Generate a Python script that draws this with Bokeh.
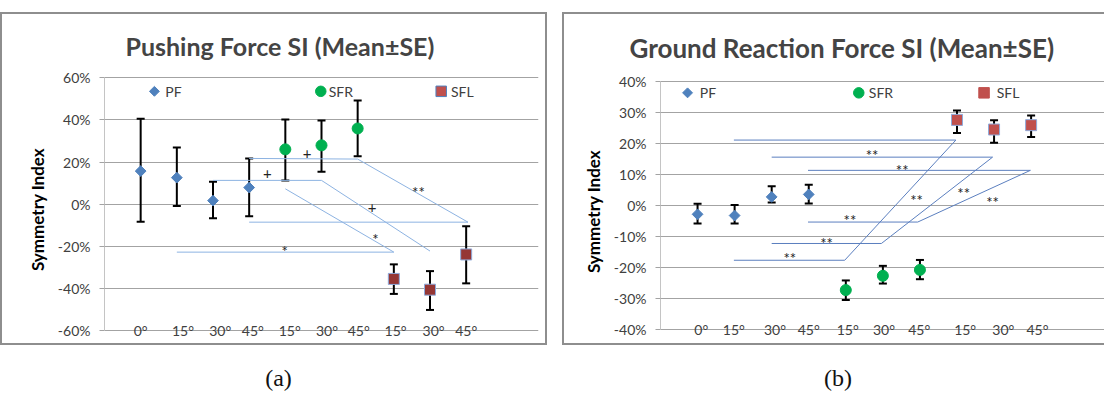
import numpy as np
from bokeh.plotting import figure
from bokeh.models import (ColumnDataSource, Range1d, FixedTicker, PrintfTickFormatter,
                          Whisker, TeeHead, Div, Spacer)
from bokeh.layouts import row, column
from bokeh.embed import file_html
from bokeh.resources import INLINE
from bokeh.core.properties import value

# ---------------- data ----------------
angle_labels = ["0°", "15°", "30°", "45°", "15°", "30°", "45°", "15°", "30°", "45°"]
pf_x = [1, 2, 3, 4]
sfr_x = [5, 6, 7]
sfl_x = [8, 9, 10]

# (a) Pushing Force SI (%)
a_pf_mean = [15.7, 12.6, 1.7, 7.9]
a_pf_upper = [40.5, 26.9, 10.6, 21.7]
a_pf_lower = [-8.3, -0.8, -6.6, -5.7]
a_sfr_mean = [26.0, 27.9, 35.9]
a_sfr_upper = [40.2, 39.7, 49.1]
a_sfr_lower = [11.3, 15.4, 22.7]
a_sfl_mean = [-35.4, -40.5, -23.8]
a_sfl_upper = [-28.5, -31.7, -10.4]
a_sfl_lower = [-42.5, -50.1, -37.5]
a_yticks = [-60, -40, -20, 0, 20, 40, 60]
a_sig_text = ["+", "+", "**", "+", "*", "*"]

# (b) Ground Reaction Force SI (%)
b_pf_mean = [-2.9, -3.3, 2.7, 3.5]
b_pf_upper = [0.5, 0.1, 6.1, 6.6]
b_pf_lower = [-5.9, -5.9, 0.9, 0.6]
b_sfr_mean = [-27.3, -22.7, -20.8]
b_sfr_upper = [-24.2, -19.5, -17.6]
b_sfr_lower = [-30.5, -25.2, -23.8]
b_sfl_mean = [27.5, 24.4, 25.8]
b_sfl_upper = [30.5, 27.4, 28.9]
b_sfl_lower = [23.3, 20.1, 22.0]
b_yticks = [-40, -30, -20, -10, 0, 10, 20, 30, 40]
b_sig_text = ["**"] * 8

# ---------------- layout (positions in data units) ----------------
a_label_x = [1.0, 2.17, 3.2, 4.1, 5.12, 6.15, 7.03, 8.05, 9.1, 10.0]
b_label_x = [1.1, 1.98, 3.09, 4.0, 5.05, 6.03, 6.98, 8.22, 9.25, 10.17]
a_lines = dict(x0=[4, 7, 4, 3, 6, 5, 2.0],
               y0=[21.7, 21.4, -8.5, 11.3, 11.3, 7.3, -22.7],
               x1=[7, 10.05, 10.05, 6, 9.0, 8.0, 8.0],
               y1=[21.4, -8.5, -8.5, 11.3, -22.2, -22.7, -22.7])
a_sig_pos = dict(x=[5.6, 4.5, 8.68, 7.4, 7.49, 4.98],
                 y=[24.0, 14.5, 8.1, -1.4, -14.0, -20.0])
b_lines = dict(x0=[1.98, 7.97, 1.98, 3.0, 8.96, 3.0, 3.98, 9.98, 3.98],
               y0=[21.0, 21.0, -17.7, 15.5, 15.5, -12.3, 11.25, 11.25, -5.4],
               x1=[7.97, 4.97, 4.97, 8.96, 5.96, 5.96, 9.98, 6.94, 6.94],
               y1=[21.0, -17.7, -17.7, 15.5, -12.3, -12.3, 11.25, -5.4, -5.4])
b_sig_pos = dict(x=[5.71, 6.52, 6.91, 8.18, 8.96, 5.11, 4.48, 3.49],
                 y=[17.9, 12.9, 3.3, 5.7, 2.7, -3.2, -10.4, -15.5])

FONT = value("Lato")
PF_C = "#4F81BD"
SFR_C = "#00B050"


def make_panel(title, title_size, title_standoff, width, height, borders, xr, yr, yticks, series,
               sfl_fill, label_x, lines, line_color, sig_text, sig_pos, legend, title_offset, styles):
    p = figure(width=width, height=height, x_range=Range1d(*xr), y_range=Range1d(*yr),
               output_backend="svg", toolbar_location=None,
               min_border_left=borders[0], min_border_right=borders[1],
               min_border_top=borders[2], min_border_bottom=borders[3],
               styles=styles)
    p.title.text = title
    p.title.text_font = "Lato"
    p.title.text_font_style = "bold"
    p.title.text_font_size = title_size
    p.title.align = "left"
    p.title.offset = title_offset
    p.title.standoff = title_standoff
    p.outline_line_color = None
    p.background_fill_color = "white"
    p.border_fill_color = "white"
    p.xaxis.visible = False
    p.xgrid.visible = False
    p.ygrid.ticker = FixedTicker(ticks=yticks)
    p.ygrid.grid_line_color = "#a3a3a3"
    p.ygrid.grid_line_width = 1
    ax = p.yaxis[0]
    ax.ticker = FixedTicker(ticks=yticks)
    ax.formatter = PrintfTickFormatter(format="%d%%")
    ax.bounds = (yticks[0], yticks[-1])
    ax.axis_line_color = "#c4c4c4"
    ax.major_tick_line_color = "#a3a3a3"
    ax.major_tick_out = 5
    ax.major_tick_in = 0
    ax.minor_tick_line_color = None
    ax.major_label_standoff = 9
    ax.major_label_text_font = "Lato"
    ax.major_label_text_font_size = "14px"
    ax.major_label_text_color = "#404040"
    ax.axis_label = "Symmetry Index"
    ax.axis_label_text_font = "Lato"
    ax.axis_label_text_font_style = "bold"
    ax.axis_label_text_font_size = "17px"
    ax.axis_label_text_color = "black"
    ax.axis_label_standoff = 7

    # significance lines
    p.segment(x0="x0", y0="y0", x1="x1", y1="y1", source=ColumnDataSource(lines),
              line_color=line_color, line_width=1)
    offs = [5 if "*" in t else 0 for t in sig_text]
    p.text(x="x", y="y", text="t", y_offset="o",
           source=ColumnDataSource(dict(sig_pos, t=sig_text, o=offs)),
           text_font=FONT, text_font_size="15px", text_color="#222222",
           text_align="center", text_baseline="middle")

    # error bars + markers
    for xs, mean, up, lo, kind in series:
        src = ColumnDataSource(dict(x=xs, m=mean, u=up, l=lo))
        w = Whisker(source=src, base="x", upper="u", lower="l", line_color="black", line_width=2,
                    upper_head=TeeHead(size=8, line_width=2, line_color="black"),
                    lower_head=TeeHead(size=8, line_width=2, line_color="black"))
        p.add_layout(w)
        if kind == "pf":
            p.scatter("x", "m", source=src, marker="square", angle=np.pi / 4, size=7.6,
                      fill_color=PF_C, line_color=PF_C)
        elif kind == "sfr":
            p.scatter("x", "m", source=src, marker="circle", size=11,
                      fill_color=SFR_C, line_color=SFR_C)
        else:
            p.scatter("x", "m", source=src, marker="square", size=11,
                      fill_color=sfl_fill, line_color="#8EAADB", line_width=1)

    # angle labels on the bottom gridline
    p.text(x="x", y="y", text="t",
           source=ColumnDataSource(dict(x=label_x, y=[yticks[0]] * len(label_x), t=angle_labels)),
           text_font=FONT, text_font_size="14px", text_color="#404040",
           text_align="center", text_baseline="middle")

    # in-plot legend
    (lx, ly, tx, sq_fill, sq_line) = legend
    p.scatter([lx[0]], [ly], marker="square", angle=np.pi / 4, size=7, fill_color=PF_C, line_color=PF_C)
    p.scatter([lx[1]], [ly], marker="circle", size=10.5, fill_color=SFR_C, line_color=SFR_C)
    p.scatter([lx[2]], [ly], marker="square", size=10.5, fill_color=sq_fill, line_color=sq_line)
    p.text(x=tx, y=[ly] * 3, text=["PF", "SFR", "SFL"], text_font=FONT, text_font_size="14px",
           text_color="#404040", text_align="left", text_baseline="middle")
    return p


pa = make_panel("Pushing Force SI (Mean±SE)", "25px", 29, 547, 333, (102, 11, 61, 4), (0, 12),
                (-66, 61), a_yticks,
                [(pf_x, a_pf_mean, a_pf_upper, a_pf_lower, "pf"),
                 (sfr_x, a_sfr_mean, a_sfr_upper, a_sfr_lower, "sfr"),
                 (sfl_x, a_sfl_mean, a_sfl_upper, a_sfl_lower, "sfl")],
                "#953735", a_label_x, a_lines, "#8DB3E2", a_sig_text, a_sig_pos,
                ([1.38, 5.98, 9.31], 53.5, [1.68, 6.2, 9.58], "#C0504D", "#4F81BD"), 21,
                {"border": "2px solid #8e8e8e"})
pb = make_panel("Ground Reaction Force SI (Mean±SE)", "26px", 31, 542, 333, (96, 2, 64, 4),
                (0, 11.98), (-44.5, 40.5), b_yticks,
                [(pf_x, b_pf_mean, b_pf_upper, b_pf_lower, "pf"),
                 (sfr_x, b_sfr_mean, b_sfr_upper, b_sfr_lower, "sfr"),
                 (sfl_x, b_sfl_mean, b_sfl_upper, b_sfl_lower, "sfl")],
                "#C0504D", b_label_x, b_lines, "#5B7FBF", b_sig_text, b_sig_pos,
                ([0.73, 5.35, 8.73], 36.2, [1.06, 5.62, 9.07], "#C0504D", "#C0504D"), -31,
                {"border": "2px solid #8e8e8e", "border-right": "none"})

cap_style = "text-align:center;font-family:'Liberation Serif';font-size:24px;padding-top:11px;color:#111"
da = Div(text=f'<div style="{cap_style};width:547px">(a)</div>', width=547, height=38)
db = Div(text=f'<div style="{cap_style};width:542px">(b)</div>', width=542, height=38)

layout = row(column(Spacer(height=12), pa, da), Spacer(width=5),
             column(Spacer(height=12), pb, db))
open("out.html", "w").write(file_html(layout, INLINE))
